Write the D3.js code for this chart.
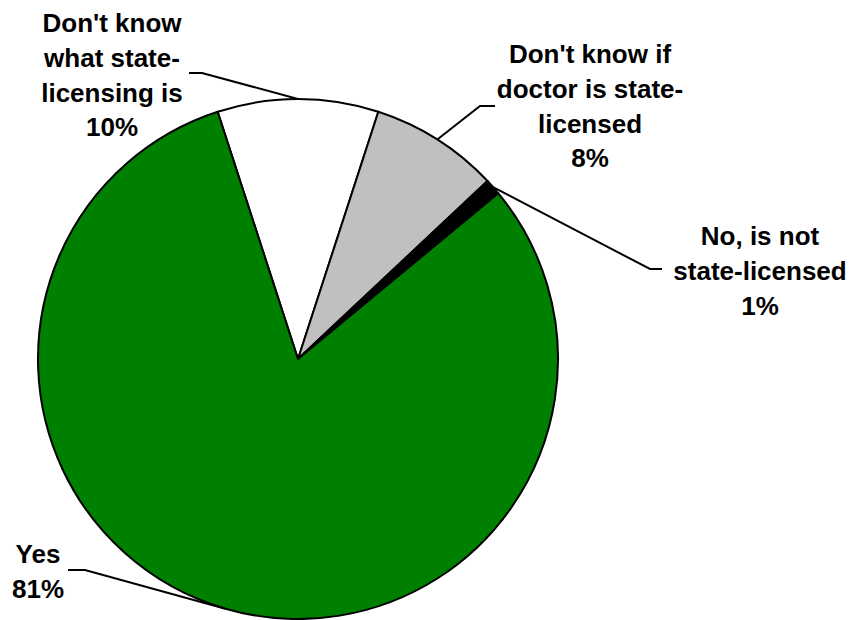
<!DOCTYPE html>
<html>
<head>
<meta charset="utf-8">
<script src="https://cdn.jsdelivr.net/npm/d3@7"></script>
<style>
  body { margin: 0; background: #fff; }
  .lbl { font-family: "Liberation Sans", Arial, sans-serif; font-weight: bold; font-size: 26px; fill: #000; }
</style>
</head>
<body>
<div id="chart"></div>
<script>
// slices clockwise from the top-left edge of the white slice
var categories = ["Don't know what state-licensing is", "Don't know if doctor is state-licensed", "No, is not state-licensed", "Yes"];
var values = [10, 8, 1, 81];
var colors = ['#ffffff', '#c0c0c0', '#000000', '#008000'];
var labelLines = [
  ["Don't know", "what state-", "licensing is", "10%"],
  ["Don't know if", "doctor is state-", "licensed", "8%"],
  ["No, is not", "state-licensed", "1%"],
  ["Yes", "81%"]
];

var w = 857, h = 620;
var cx = 298, cy = 359, r = 260;

// label placement: text centre x, first baseline, leader elbow and end
var labelPos = [
  { x: 112, y: 32, elbow: [202, 73], end: [189, 73] },
  { x: 590, y: 63, elbow: [480, 106], end: [495, 106] },
  { x: 760, y: 245, elbow: [650, 269], end: [662, 269] },
  { x: 38, y: 563, elbow: [85, 570], end: [68, 570] }
];
var lineH = 34.8;

var svg = d3.select('#chart')
  .append('svg')
  .attr('width', w)
  .attr('height', h);

var pie = d3.pie()
  .sort(null)
  .value(function(d) { return d; })
  .startAngle(-0.05 * 2 * Math.PI)
  .endAngle(0.95 * 2 * Math.PI);

var arcs = pie(values);

var arc = d3.arc().innerRadius(0).outerRadius(r);

var g = svg.append('g')
  .attr('transform', 'translate(' + cx + ',' + cy + ')');

g.selectAll('path')
  .data(arcs)
  .enter()
  .append('path')
  .attr('d', arc)
  .attr('fill', function(d, i) { return colors[i]; })
  .attr('stroke', '#000')
  .attr('stroke-width', 2)
  .attr('stroke-linejoin', 'round');

// leader lines
svg.selectAll('.leader')
  .data(arcs)
  .enter()
  .append('polyline')
  .attr('class', 'leader')
  .attr('fill', 'none')
  .attr('stroke', '#000')
  .attr('stroke-width', 2)
  .attr('points', function(d, i) {
    var a = (d.startAngle + d.endAngle) / 2;
    var p = [cx + r * Math.sin(a), cy - r * Math.cos(a)];
    var lp = labelPos[i];
    return [p, lp.elbow, lp.end].map(function(q) { return q.join(','); }).join(' ');
  });

var labels = svg.selectAll('.lbl')
  .data(labelLines)
  .enter()
  .append('text')
  .attr('class', 'lbl')
  .attr('text-anchor', 'middle');

labels.selectAll('tspan')
  .data(function(d, i) { return d.map(function(t) { return { t: t, i: i }; }); })
  .enter()
  .append('tspan')
  .attr('x', function(d) { return labelPos[d.i].x; })
  .attr('y', function(d, j) { return labelPos[d.i].y + j * lineH; })
  .text(function(d) { return d.t; });
</script>
</body>
</html>
